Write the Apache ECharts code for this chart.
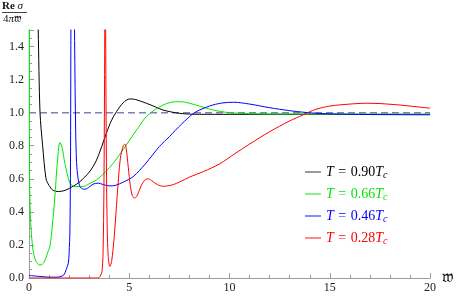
<!DOCTYPE html>
<html>
<head>
<meta charset="utf-8">
<script src="https://cdn.jsdelivr.net/npm/echarts@6/dist/echarts.min.js"></script>
<style>html,body{margin:0;padding:0;background:#fff}#c{width:457px;height:296px}</style>
</head>
<body>
<div id="c"></div>
<script>
// ---- data ----
const legendLabels = ['0.90', '0.66', '0.46', '0.28'];
const xTicks = [0, 5, 10, 15, 20];
const yTicks = [0, 0.2, 0.4, 0.6, 0.8, 1.0, 1.2, 1.4];

const xBlack = [0.2, 0.3, 0.4, 0.46, 0.55, 0.68, 0.85, 1.0, 1.2, 1.47, 1.8, 2.2, 2.54, 3.0, 3.37, 3.86, 4.1, 4.36, 4.7, 5.02, 5.3, 5.85, 6.3, 6.68, 7.5, 8.5, 10, 12, 15, 20];
const yBlack = [5, 3, 1.9, 1.5, 1.0, 0.8, 0.6, 0.56, 0.53, 0.523, 0.53, 0.555, 0.583, 0.64, 0.714, 0.876, 0.95, 1.006, 1.06, 1.083, 1.08, 1.057, 1.035, 1.016, 0.996, 0.99, 0.99, 0.99, 0.99, 0.99];

const xGreen = [0, 0.01, 0.03, 0.06, 0.12, 0.2, 0.35, 0.55, 0.75, 0.95, 1.04, 1.15, 1.29, 1.4, 1.54, 1.65, 1.79, 2.04, 2.3, 2.7, 3.0, 3.37, 3.8, 4.2, 4.6, 5.02, 5.45, 5.85, 6.3, 6.68, 7.0, 7.3, 7.6, 8.0, 8.5, 9.0, 9.5, 10, 11, 13, 20];
const yGreen = [3, 1.5, 0.6, 0.4, 0.27, 0.17, 0.1, 0.078, 0.095, 0.16, 0.19, 0.3, 0.49, 0.68, 0.82, 0.79, 0.694, 0.574, 0.553, 0.553, 0.57, 0.594, 0.64, 0.694, 0.76, 0.835, 0.91, 0.976, 1.02, 1.046, 1.06, 1.066, 1.066, 1.057, 1.04, 1.022, 1.008, 1.0, 0.994, 0.992, 0.99];

const xBlue = [0, 0.5, 1.0, 1.4, 1.6, 1.75, 1.85, 1.96, 2.0, 2.04, 2.07, 2.09, 2.15, 2.2, 2.27, 2.32, 2.37, 2.45, 2.55, 2.7, 2.8, 3.0, 3.2, 3.45, 3.7, 4.0, 4.3, 4.7, 5.2, 5.8, 6.5, 7.0, 7.6, 8.26, 9.0, 9.6, 10.2, 11, 12, 13, 13.65, 14.5, 16, 18, 20];
const yBlue = [0.015, 0.01, 0.005, 0.005, 0.01, 0.02, 0.05, 0.09, 0.15, 0.29, 0.7, 1.5, 3, 2.5, 1.5, 0.95, 0.7, 0.6, 0.55, 0.538, 0.537, 0.55, 0.568, 0.574, 0.565, 0.557, 0.56, 0.58, 0.614, 0.69, 0.795, 0.855, 0.93, 1.0, 1.04, 1.058, 1.063, 1.052, 1.03, 1.012, 1.003, 0.995, 0.99, 0.988, 0.987];

const xRed = [0, 1, 2, 3, 3.4, 3.55, 3.65, 3.7, 3.74, 3.78, 3.8, 3.82, 3.86, 3.9, 3.95, 4.03, 4.12, 4.25, 4.4, 4.55, 4.7, 4.78, 4.85, 4.95, 5.05, 5.15, 5.27, 5.4, 5.6, 5.8, 5.95, 6.1, 6.4, 6.7, 6.9, 7.2, 7.5, 8, 8.7, 9.5, 10.3, 11, 12, 13, 13.65, 14.3, 15, 16, 16.8, 17.5, 18.5, 19.3, 20];
const yRed = [0, 0, 0, 0, 0, 0.01, 0.05, 0.2, 0.6, 1.6, 4, 1.6, 0.7, 0.3, 0.13, 0.07, 0.1, 0.25, 0.5, 0.72, 0.8, 0.81, 0.78, 0.67, 0.56, 0.5, 0.483, 0.5, 0.56, 0.595, 0.6, 0.59, 0.565, 0.555, 0.557, 0.565, 0.58, 0.61, 0.644, 0.69, 0.755, 0.81, 0.885, 0.95, 0.986, 1.02, 1.04, 1.052, 1.057, 1.055, 1.046, 1.036, 1.027];

const refX = [0, 20];
const refY = [1, 1];

// ---- build chart ----
const zip = (xs, ys) => xs.map((x, i) => [x, ys[i]]);
const colors = ['#000000', '#00e600', '#0000ff', '#ff0000'];
const iconColors = ['#9a9a9a', '#88f088', '#8a8aff', '#ff8a8a'];
const names = legendLabels.map(v => 'T' + v);
const serif = '"Liberation Serif", "DejaVu Serif", serif';

const chart = echarts.init(document.getElementById('c'), null, {renderer: 'canvas'});
const lineSeries = (name, data, color) => ({
  name, type: 'line', data, showSymbol: false, symbol: 'none',
  smooth: 0.3, clip: true,
  lineStyle: {color, width: 1}, itemStyle: {color}, z: 3, animation: false
});

chart.setOption({
  animation: false,
  grid: {left: 29, right: 25, top: 30, bottom: 18, containLabel: false},
  xAxis: {
    type: 'value', min: 0, max: 20, interval: 5,
    name: '\u{1D534}', nameLocation: 'end', nameGap: 2,
    nameTextStyle: {fontFamily: serif, fontSize: 17, color: '#111', verticalAlign: 'middle', padding: [0, 0, 4, 0]},
    axisLine: {onZero: false, lineStyle: {color: '#9a9a9a', width: 1}},
    axisTick: {inside: true, length: 5, lineStyle: {color: '#9a9a9a'}},
    minorTick: {show: true, splitNumber: 5, length: 3, lineStyle: {color: '#9a9a9a'}},
    splitLine: {show: false},
    axisLabel: {fontFamily: serif, fontSize: 12, color: '#222', margin: 4,
      formatter: v => xTicks.includes(v) ? String(v) : ''}
  },
  yAxis: {
    type: 'value', min: 0, max: 1.5, interval: 0.2,
    axisLine: {show: true, onZero: false, lineStyle: {color: '#9a9a9a', width: 1}},
    axisTick: {show: true, inside: true, length: 5, lineStyle: {color: '#9a9a9a'}},
    minorTick: {show: true, splitNumber: 4, length: 3, lineStyle: {color: '#9a9a9a'}},
    splitLine: {show: false},
    axisLabel: {fontFamily: serif, fontSize: 12, color: '#222', margin: 5, showMaxLabel: false,
      formatter: v => {
        const m = yTicks.find(t => Math.abs(t - v) < 1e-6);
        return m === undefined ? '' : m.toFixed(1);
      }}
  },
  legend: {
    orient: 'vertical', left: 300, top: 159, itemWidth: 16, itemHeight: 2, itemGap: 6,
    icon: 'rect',
    data: names.map((n, i) => ({name: n, itemStyle: {color: iconColors[i]},
      textStyle: {color: colors[i]}})),
    formatter: n => '{i|T}{e| = }{n|' + n.slice(1) + '}{i|T}{s|c}',
    textStyle: {
      fontFamily: serif, fontSize: 14, lineHeight: 16,
      rich: {
        i: {fontFamily: serif, fontStyle: 'italic', fontSize: 14, lineHeight: 16},
        e: {fontFamily: serif, fontSize: 14, lineHeight: 16, padding: [0, 1]},
        n: {fontFamily: serif, fontSize: 14, lineHeight: 16},
        s: {fontFamily: serif, fontStyle: 'italic', fontSize: 10, lineHeight: 16, verticalAlign: 'bottom', padding: [6, 0, 0, 0]}
      }
    }
  },
  graphic: [
    {type: 'text', left: 2, top: 1, style: {
      text: '{r|Re} {g|σ}', font: '11px ' + serif, fill: '#111',
      rich: {r: {fontFamily: serif, fontSize: 11, fontWeight: 'bold'}, g: {fontFamily: serif, fontSize: 11, fontStyle: 'italic'}}
    }},
    {type: 'line', shape: {x1: 2, y1: 12.5, x2: 27, y2: 12.5}, style: {stroke: '#111', lineWidth: 0.8}},
    {type: 'text', left: 3, top: 14, style: {
      text: '4{g|π}\u{1D534}', font: '11px ' + serif, fill: '#111',
      rich: {g: {fontFamily: serif, fontSize: 11, fontStyle: 'italic'}}
    }}
  ],
  series: [
    {name: 'ref', type: 'line', data: zip(refX, refY), showSymbol: false, symbol: 'none',
      lineStyle: {color: '#8080b8', width: 1.5, type: [7, 4]}, z: 2, silent: true},
    lineSeries(names[0], zip(xBlack, yBlack), colors[0]),
    lineSeries(names[1], zip(xGreen, yGreen), colors[1]),
    lineSeries(names[2], zip(xBlue, yBlue), colors[2]),
    lineSeries(names[3], zip(xRed, yRed), colors[3])
  ]
});
</script>
</body>
</html>
